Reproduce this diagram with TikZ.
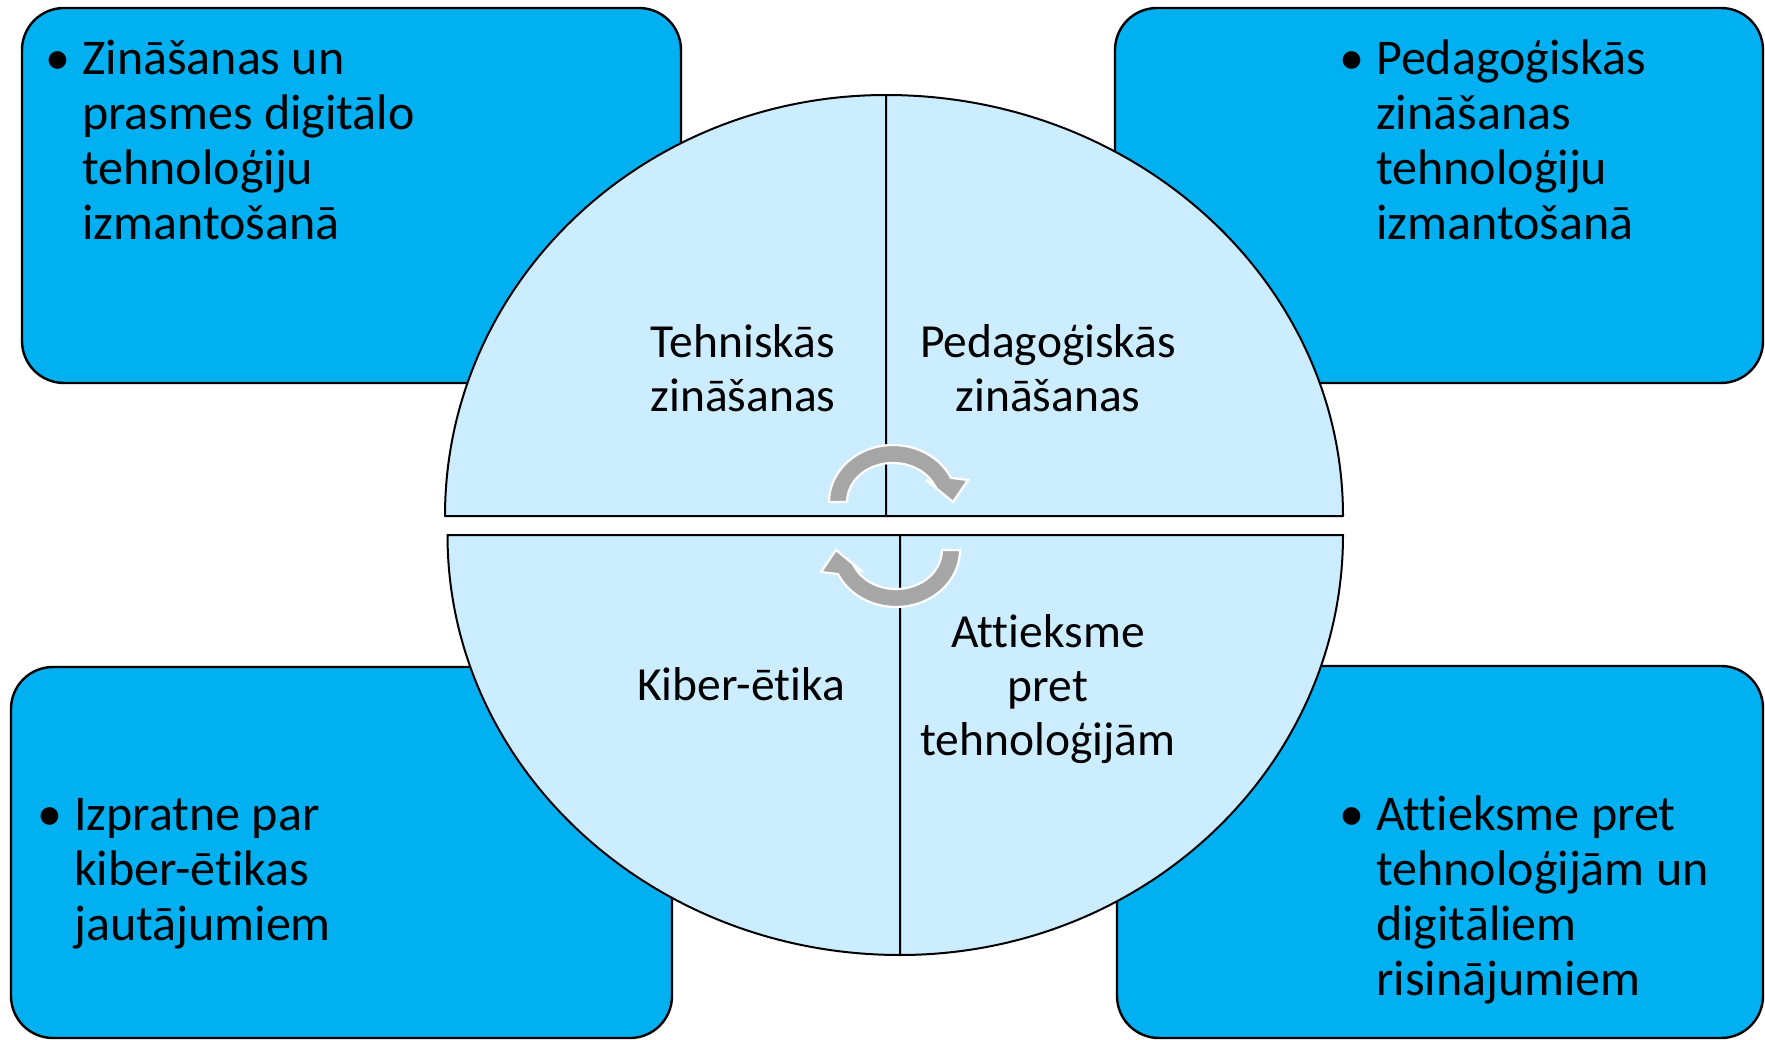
\documentclass[tikz,border=0pt]{standalone}
\usepackage{fontspec}
\setmainfont{Carlito}[Ligatures={NoCommon}]
\definecolor{boxblue}{HTML}{00B0F0}
\definecolor{quadblue}{HTML}{CCECFF}
\definecolor{arrowgray}{HTML}{A6A6A6}
\begin{document}
\begin{tikzpicture}[x=1pt,y=-1pt,
  bigbox/.style={draw=black,fill=boxblue,line width=2.4pt,rounded corners=42pt,rectangle,inner sep=0},
  quad/.style={draw=black,fill=quadblue,line width=2pt,line join=round},
  btext/.style={font=\fontsize{50}{55}\selectfont,align=left,anchor=base west,inner sep=0},
  bull/.style={font=\fontsize{50}{55}\selectfont,anchor=base west,inner sep=0},
  ctext/.style={font=\fontsize{47.5}{54}\selectfont,align=center,anchor=base,inner sep=0},
  cyc/.pic={
    \filldraw[fill=arrowgray,draw=white,line width=2.2pt,line join=miter]
      (-64,0) arc[start angle=180,end angle=335,x radius=64,y radius=57]
      -- (75,-22) -- (60,0) -- (33,-22) -- (41.7,-16.5)
      arc[start angle=335,end angle=180,x radius=46,y radius=39] -- cycle;
  }]
\useasboundingbox (0,0) rectangle (1765,1040);
\fill[white] (0,0) rectangle (1765,1040);
% outer boxes
\node[bigbox,minimum width=659,minimum height=375] (tl) at (351.5,195.5) {};
\node[bigbox,minimum width=648,minimum height=375] (tr) at (1439,195.5) {};
\node[bigbox,minimum width=661,minimum height=371] (bl) at (341.5,852.5) {};
\node[bigbox,minimum width=646,minimum height=372] (br) at (1440,852) {};
% box texts (anchor = baseline of last line)
\node[bull] (tlb) at (45,75) {•};
\node[btext] (tlt) at (82,240) {Zināšanas un\\prasmes digitālo\\tehnoloģiju\\izmantošanā};
\node[bull] (trb) at (1339,75) {•};
\node[btext] (trt) at (1376,240) {Pedagoģiskās\\zināšanas\\tehnoloģiju\\izmantošanā};
\node[bull] (blb) at (37,830) {•};
\node[btext] (blt) at (74,940) {Izpratne par\\kiber-ētikas\\jautājumiem};
\node[bull] (brb) at (1339,830) {•};
\node[btext] (brt) at (1376,995) {Attieksme pret\\tehnoloģijām un\\digitāliem\\risinājumiem};
% quarters
\draw[quad] (886,516) -- (445,516) arc[start angle=180,end angle=270,x radius=441,y radius=421] -- cycle;
\draw[quad] (886,516) -- (886,95) arc[start angle=270,end angle=360,x radius=457,y radius=421] -- cycle;
\draw[quad] (900,535) -- (447.5,535) arc[start angle=180,end angle=90,x radius=452.5,y radius=420] -- cycle;
\draw[quad] (900,535) -- (1343,535) arc[start angle=0,end angle=90,x radius=443,y radius=420] -- cycle;
% quarter texts (anchor = baseline of last line)
\node[ctext] (q1) at (743,412) {Tehniskās\\zināšanas};
\node[ctext] (q2) at (1048,412) {Pedagoģiskās\\zināšanas};
\node[ctext] (q3) at (741,700) {Kiber-ētika};
\node[ctext] (q4) at (1048,755) {Attieksme\\pret\\tehnoloģijām};
% cycle arrows
\pic at (893,502) {cyc};
\pic[rotate=180] at (896,550) {cyc};
\end{tikzpicture}
\end{document}
